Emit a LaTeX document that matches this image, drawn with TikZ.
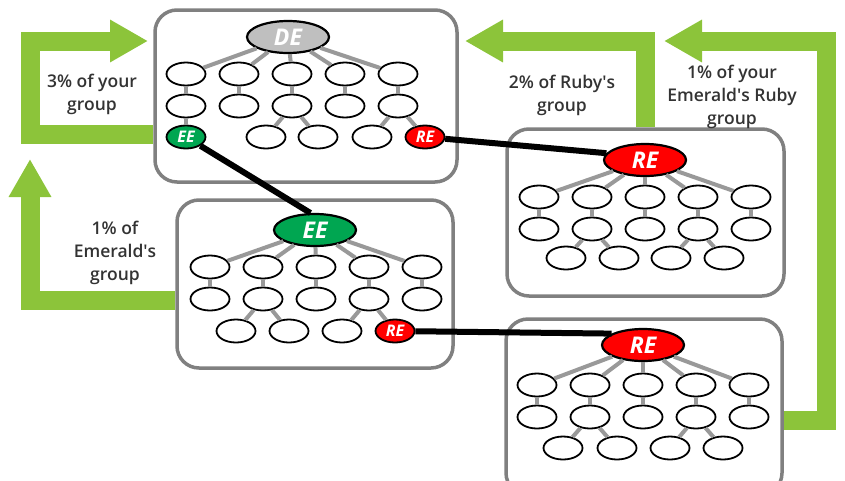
\documentclass[tikz,border=0pt]{standalone}
\usepackage{fontspec}
\setmainfont{Open Sans}[BoldFont={Open Sans Semibold}, BoldItalicFont={Open Sans Bold Italic}]
\usetikzlibrary{shapes.geometric,arrows.meta}
\definecolor{leafgreen}{HTML}{8CC43A}
\definecolor{emerald}{HTML}{00A651}
\definecolor{ruby}{HTML}{FF0000}
\definecolor{boxgray}{HTML}{808080}
\definecolor{textgray}{HTML}{333333}
\tikzset{
	groupbox/.style={draw=boxgray, line width=3.5pt, rounded corners=22pt, fill=white, inner sep=0pt},
	member/.style={ellipse, draw, line width=1.8pt, fill=white, minimum width=39pt, minimum height=23pt, inner sep=0pt},
	badge/.style={member, font=\bfseries\itshape\fontsize{16}{16}\selectfont, text=white},
	root/.style={ellipse, draw, line width=2.2pt, minimum width=82pt, minimum height=32pt, inner sep=0pt, font=\bfseries\itshape\fontsize{23}{23}\selectfont, text=white},
	branch/.style={draw=black!40, line width=4pt},
	link/.style={line width=6pt},
	flow/.style={draw=leafgreen, line width=19pt, line join=miter, -{Triangle[width=40pt,length=38pt]}},
	note/.style={font=\bfseries\fontsize{17.5}{23}\selectfont, text=textgray, align=center}
}
\def\grouprows#1#2#3{% root name, middle column x, first row y
	\foreach \i/\dx in {1/-106,2/-53,3/0,4/53,5/106}{
		\node[member] (#1a\i) at ({#2+\dx},#3) {};
		\node[member] (#1b\i) at ({#2+\dx},#3+32) {};
		\draw[branch] (#1) -- (#1a\i);
		\draw[branch] (#1a\i) -- (#1b\i);
	}}

\begin{document}
\begin{tikzpicture}[x=1pt,y=-1pt]
		%%%%% START %%%%%
		\useasboundingbox (0,0) rectangle (845,480);
		
		% boxes
		\node[groupbox, minimum width=302, minimum height=172] (boxtop) at (306,96) {};
		\node[groupbox, minimum width=276, minimum height=168] (boxem) at (315,284) {};
		\node[groupbox, minimum width=277, minimum height=167] (boxru) at (645.5,212.5) {};
		\node[groupbox, minimum width=276, minimum height=176] (boxrr) at (644,407) {};
		
		% green arrows
		\draw[flow] (boxtop.west |- 0,134) -| (30,41) -- (148,41);
		\draw[flow] (boxem.west |- 0,300) -| (30,159);
		\draw[flow] (boxru.north) |- (465,41);
		\draw[flow] (boxrr.east |- 0,420) -| (826,41) -- (664,41);
		
		\node[note] (notetop) at (92,94) {3\% of your\\group};
		\node[note] (noteem) at (115,253) {1\% of\\Emerald\textquotesingle s\\group};
		\node[note] (noteru) at (562,95) {2\% of Ruby\textquotesingle s\\group};
		\node[note] (noterr) at (732,97) {1\% of your\\Emerald\textquotesingle s Ruby\\group};
		
		% your group
		\node[root, fill=black!25] (de) at (288,37) {DE};
		\grouprows{de}{292}{74}
		\node[badge, fill=emerald] (topee) at (186,137) {EE};
		\node[member] (dec2) at (266,137) {};
		\node[member] (dec3) at (318,137) {};
		\node[member] (dec4) at (372,137) {};
		\node[badge, fill=ruby] (topre) at (425,137) {RE};
		\draw[branch] (deb1) -- (topee);
		\draw[branch] (deb3) -- (dec2);
		\draw[branch] (deb3) -- (dec3);
		\draw[branch] (deb5) -- (dec4);
		\draw[branch] (deb5) -- (topre);
		
		% emerald's group
		\node[root, fill=emerald] (ee) at (315,230) {EE};
		\grouprows{ee}{316}{267}
		\node[member] (eec1) at (236,331) {};
		\node[member] (eec2) at (289,331) {};
		\node[member] (eec3) at (342,331) {};
		\node[badge, fill=ruby] (emre) at (395,331) {RE};
		\draw[branch] (eeb2) -- (eec1);
		\draw[branch] (eeb2) -- (eec2);
		\draw[branch] (eeb4) -- (eec3);
		\draw[branch] (eeb4) -- (emre);
		
		% ruby's group
		\node[root, fill=ruby] (re) at (645,160) {RE};
		\grouprows{re}{645}{197}
		\node[member] (rec1) at (566,258) {};
		\node[member] (rec2) at (619,258) {};
		\node[member] (rec3) at (671,258) {};
		\node[member] (rec4) at (724,258) {};
		\draw[branch] (reb2) -- (rec1);
		\draw[branch] (reb2) -- (rec2);
		\draw[branch] (reb4) -- (rec3);
		\draw[branch] (reb4) -- (rec4);
		
		% emerald's ruby group
		\node[root, fill=ruby] (rer) at (643,345) {RE};
		\grouprows{rer}{643}{385}
		\node[member] (rerc1) at (563,448) {};
		\node[member] (rerc2) at (617,448) {};
		\node[member] (rerc3) at (670,448) {};
		\node[member] (rerc4) at (723,448) {};
		\draw[branch] (rerb2) -- (rerc1);
		\draw[branch] (rerb2) -- (rerc2);
		\draw[branch] (rerb4) -- (rerc3);
		\draw[branch] (rerb4) -- (rerc4);
		
		% links between groups
		\draw[link] (topee) -- (ee.105);
		\draw[link] (topre) -- (re.170);
		\draw[link] (emre) -- (rer.160);
		
		%%%%% END %%%%%
	\end{tikzpicture}
\end{document}
